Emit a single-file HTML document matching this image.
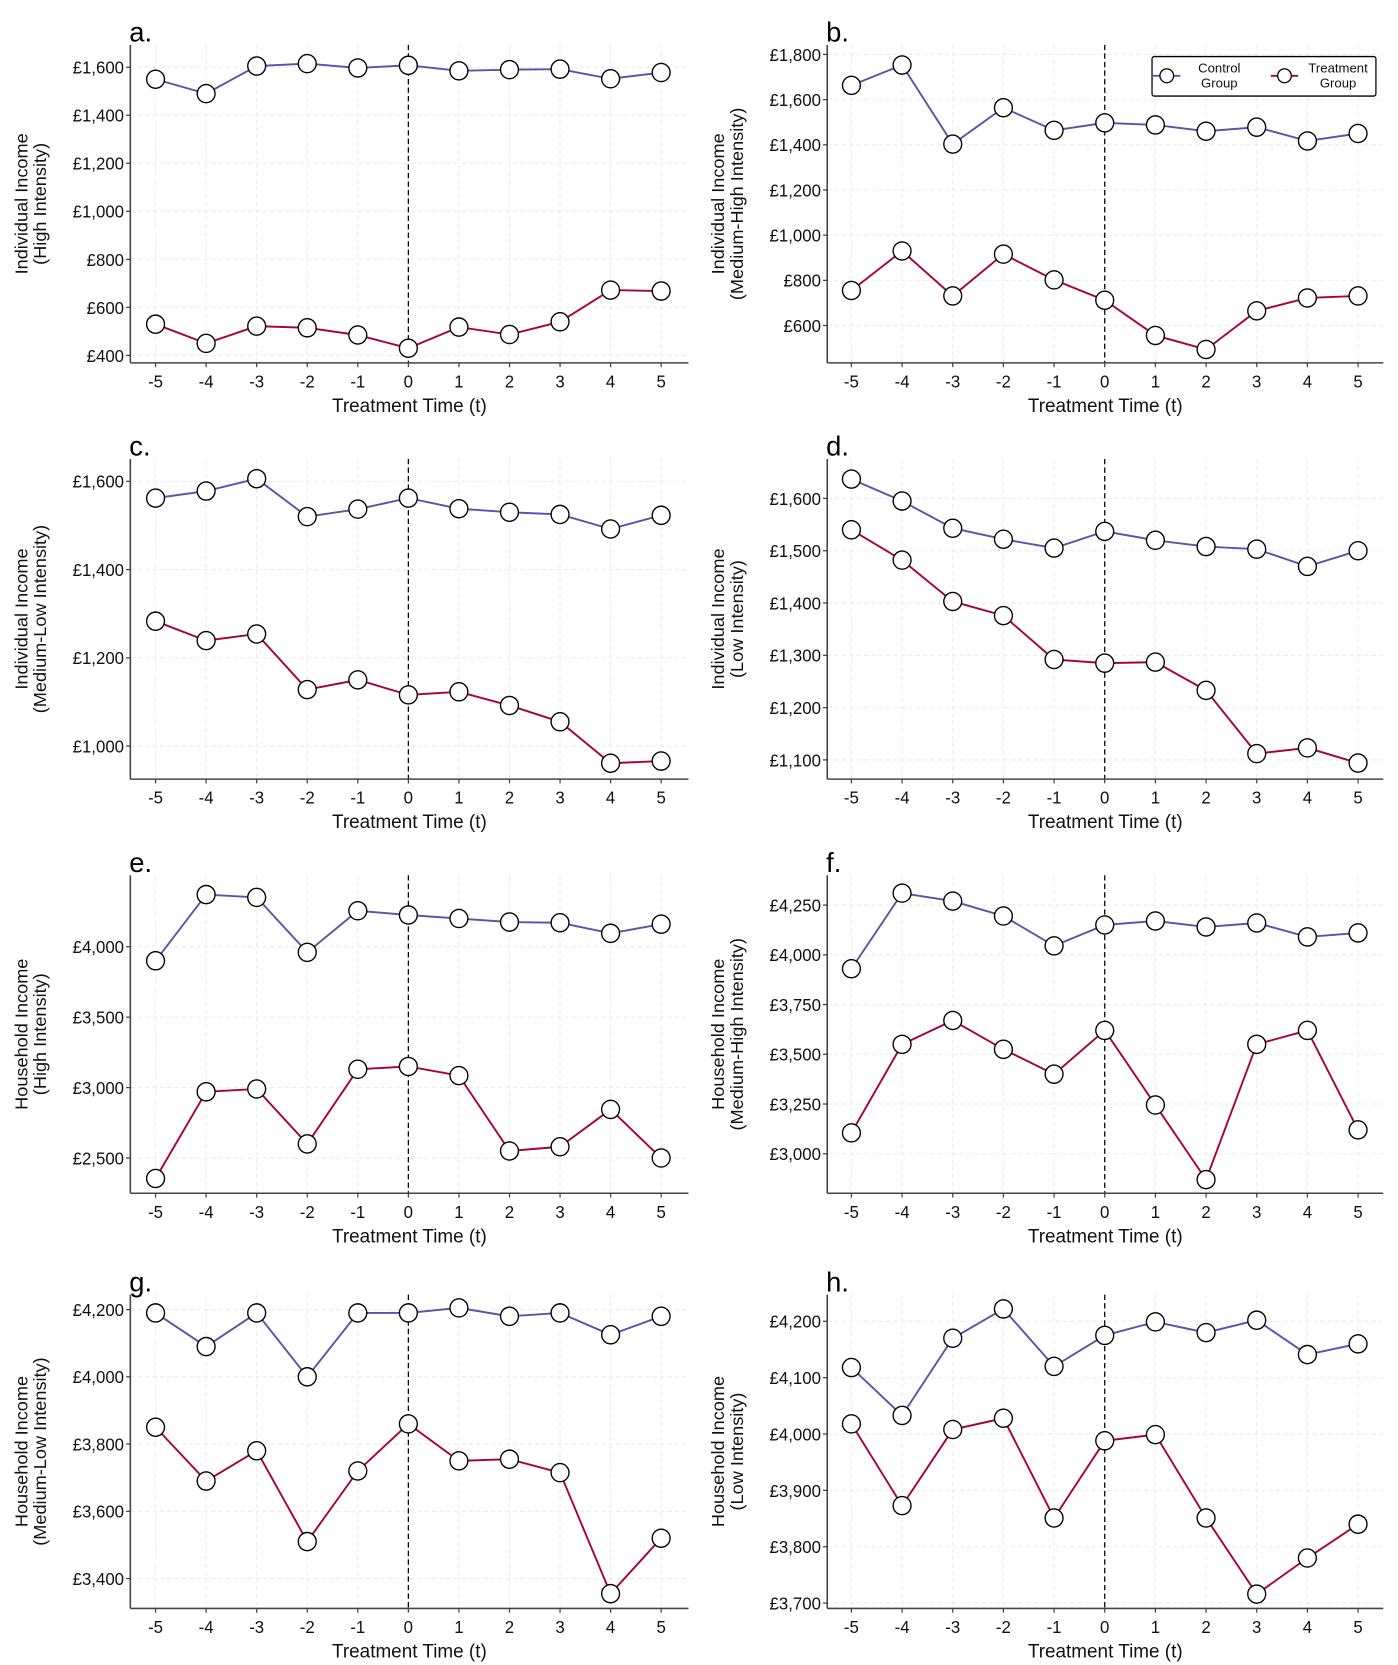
<!DOCTYPE html>
<html><head><meta charset="utf-8"><style>
html,body{margin:0;padding:0;background:#fff;}
svg{display:block;font-family:"Liberation Sans",sans-serif;}
</style></head><body>
<svg id="fig" width="1398" height="1665" viewBox="0 0 1330 1560" preserveAspectRatio="none" xmlns="http://www.w3.org/2000/svg"></svg>
<script>
const times = [-5,-4,-3,-2,-1,0,1,2,3,4,5];
const letters = ['a.','b.','c.','d.','e.','f.','g.','h.'];
const titlesL1 = ['Individual Income','Individual Income','Individual Income','Individual Income','Household Income','Household Income','Household Income','Household Income'];
const titlesL2 = ['(High Intensity)','(Medium-High Intensity)','(Medium-Low Intensity)','(Low Intensity)','(High Intensity)','(Medium-High Intensity)','(Medium-Low Intensity)','(Low Intensity)'];
const ticksA = [400,600,800,1000,1200,1400,1600];
const ticksB = [600,800,1000,1200,1400,1600,1800];
const ticksC = [1000,1200,1400,1600];
const ticksD = [1100,1200,1300,1400,1500,1600];
const ticksE = [2500,3000,3500,4000];
const ticksF = [3000,3250,3500,3750,4000,4250];
const ticksG = [3400,3600,3800,4000,4200];
const ticksH = [3700,3800,3900,4000,4100,4200];
const controlA = [1550,1490,1605,1615,1597,1608,1585,1590,1592,1552,1578];
const treatA = [530,450,522,515,485,430,518,487,540,672,668];
const controlB = [1663,1753,1403,1564,1464,1497,1488,1460,1478,1417,1450];
const treatB = [755,930,731,916,802,712,556,494,665,722,731];
const controlC = [1562,1578,1606,1520,1537,1562,1538,1530,1525,1492,1523];
const treatC = [1283,1239,1254,1128,1150,1116,1123,1092,1055,961,966];
const controlD = [1637,1595,1543,1522,1505,1537,1520,1508,1503,1470,1500];
const treatD = [1540,1482,1403,1376,1292,1285,1287,1233,1112,1123,1094];
const controlE = [3900,4370,4350,3960,4255,4225,4200,4175,4170,4095,4160];
const treatE = [2355,2970,2990,2600,3130,3150,3085,2550,2580,2845,2500];
const controlF = [3930,4310,4270,4195,4045,4150,4170,4140,4160,4090,4110];
const treatF = [3105,3550,3670,3525,3400,3620,3245,2870,3550,3620,3120];
const controlG = [4190,4090,4190,4000,4190,4190,4205,4180,4190,4125,4180];
const treatG = [3850,3690,3780,3510,3720,3860,3750,3755,3715,3355,3520];
const controlH = [4118,4033,4170,4222,4120,4175,4199,4180,4202,4141,4160];
const treatH = [4018,3873,4008,4028,3851,3988,3999,3851,3716,3780,3840];

const NS='http://www.w3.org/2000/svg';
const svg=document.getElementById('fig');
function mk(tag,attrs,parent){const e=document.createElementNS(NS,tag);for(const k in attrs)e.setAttribute(k,attrs[k]);(parent||svg).appendChild(e);return e;}
function fmt(v){return '£'+v.toLocaleString('en-GB');}

// panel geometry: [tickLow value, pixel, tickHigh value, pixel]
const panels=[
 {ticks:ticksA,c:controlA,t:treatA,lo:400,loY:333,hi:1600,hiY:63},
 {ticks:ticksB,c:controlB,t:treatB,lo:600,loY:305,hi:1800,hiY:51},
 {ticks:ticksC,c:controlC,t:treatC,lo:1000,loY:699,hi:1600,hiY:451},
 {ticks:ticksD,c:controlD,t:treatD,lo:1100,loY:712,hi:1600,hiY:467},
 {ticks:ticksE,c:controlE,t:treatE,lo:2500,loY:1085,hi:4000,hiY:887},
 {ticks:ticksF,c:controlF,t:treatF,lo:3000,loY:1081,hi:4250,hiY:848},
 {ticks:ticksG,c:controlG,t:treatG,lo:3400,loY:1479,hi:4200,hiY:1227},
 {ticks:ticksH,c:controlH,t:treatH,lo:3700,loY:1502,hi:4200,hiY:1238}
];
const rowTop=[42,430,820,1213], rowBot=[340,730,1118,1507];
panels.forEach((p,i)=>{
  const col=i%2,row=Math.floor(i/2);
  const ax=col?787:124, right=col?1316:655, x0=col?810:148, x1=col?1292:629;
  const top=rowTop[row], bot=rowBot[row];
  const X=t=>x0+(t+5)/10*(x1-x0);
  const Y=v=>p.loY+(v-p.lo)/(p.hi-p.lo)*(p.hiY-p.loY);
  const g=mk('g',{});
  
  
  // grid
  p.ticks.forEach(v=>{const l=mk('line',{x1:ax,x2:right,y1:Y(v),y2:Y(v),stroke:'#ebebeb','stroke-dasharray':'4,3','stroke-width':1},g);});
  times.forEach(t=>{const l=mk('line',{x1:X(t),x2:X(t),y1:top,y2:bot,stroke:'#ebebeb','stroke-dasharray':'4,3','stroke-width':1},g);});
  // zero line
  const z=mk('line',{x1:X(0),x2:X(0),y1:top,y2:bot,stroke:'#000','stroke-dasharray':'5,3','stroke-width':1.2},g);
  
  // axes
  const ya=mk('line',{x1:ax,x2:ax,y1:top,y2:bot,stroke:'#444','stroke-width':1.5},g);
  
  const xa=mk('line',{x1:ax,x2:right,y1:bot,y2:bot,stroke:'#444','stroke-width':1.5},g);
  
  p.ticks.forEach(v=>{
    mk('line',{x1:ax-4,x2:ax,y1:Y(v),y2:Y(v),stroke:'#444','stroke-width':1.2},g);
    const tx=mk('text',{x:ax-6,y:Y(v)+6,'text-anchor':'end','font-size':16,fill:'#111'},g);
    tx.textContent=fmt(v);
    
  });
  times.forEach(t=>{
    mk('line',{x1:X(t),x2:X(t),y1:bot,y2:bot+4,stroke:'#444','stroke-width':1.2},g);
    const tx=mk('text',{x:X(t),y:bot+23,'text-anchor':'middle','font-size':16,fill:'#111'},g);
    tx.textContent=t;
    
  });
  const xt=mk('text',{x:(ax+right)/2,y:bot+46,'text-anchor':'middle','font-size':18,fill:'#111'},g);
  xt.textContent='Treatment Time (t)';
  
  const cy=(top+bot)/2, tx0=col?689:26;
  const yt=mk('text',{transform:`translate(${tx0},${cy}) rotate(-90)`,'text-anchor':'middle','font-size':17,fill:'#111'},g);
  
  const s1=mk('tspan',{x:0,dy:0},yt);s1.textContent=titlesL1[i];
  const s2=mk('tspan',{x:0,dy:18},yt);s2.textContent=titlesL2[i];
  const lt=mk('text',{x:col?786:123,y:top-3,'font-size':26,fill:'#000'},g);
  lt.textContent=letters[i];
  
  // series
  [[p.c,'#5b52a9','control'],[p.t,'#a8003f','treatment']].forEach(([arr,colr,nm])=>{
    const pl=mk('polyline',{points:arr.map((v,k)=>X(times[k])+','+Y(v)).join(' '),fill:'none',stroke:colr,'stroke-width':1.8},g);
    
    arr.forEach((v,k)=>{
      const c=mk('circle',{cx:X(times[k]),cy:Y(v),r:8.5,fill:'#fff',stroke:'#000','stroke-width':1.3},g);
      
    });
  });
});
// legend
const lg=mk('g',{});


mk('rect',{x:1096,y:53,width:213,height:37,fill:'#fff',stroke:'#000','stroke-width':1.2,rx:2},lg);
[[1110,'#5b52a9','Control',1160],[1222,'#a8003f','Treatment',1273]].forEach(([cx,colr,w1,tx])=>{
  const e=mk('g',{},lg);
  
  
  mk('line',{x1:cx-13,x2:cx+13,y1:71,y2:71,stroke:colr,'stroke-width':1.8},e);
  mk('circle',{cx:cx,cy:71,r:6.5,fill:'#fff',stroke:'#000','stroke-width':1.2},e);
  const t1=mk('text',{x:tx,y:68,'text-anchor':'middle','font-size':12.5,fill:'#111'},e);t1.textContent=w1;
  const t2=mk('text',{x:tx,y:82,'text-anchor':'middle','font-size':12.5,fill:'#111'},e);t2.textContent='Group';
});
</script>
</body></html>
